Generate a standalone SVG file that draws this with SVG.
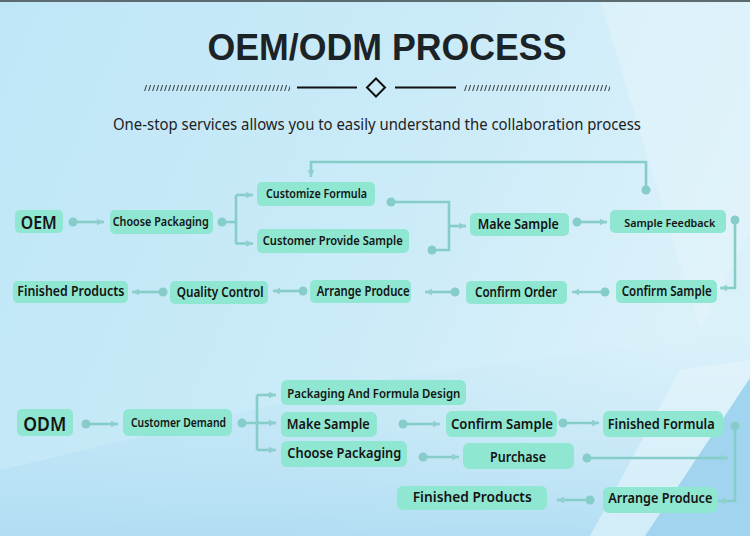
<svg xmlns="http://www.w3.org/2000/svg" width="750" height="536" viewBox="0 0 750 536">
<defs>
<linearGradient id="bg" x1="0" y1="0" x2="1" y2="0.3">
<stop offset="0" stop-color="#bfe6f7"/>
<stop offset="0.6" stop-color="#cbebf8"/>
<stop offset="1" stop-color="#dbf1fa"/>
</linearGradient>
<linearGradient id="low" x1="0" y1="0" x2="0" y2="1">
<stop offset="0" stop-color="#c2e6f6" stop-opacity="0"/>
<stop offset="1" stop-color="#aedcf2" stop-opacity="0.9"/>
</linearGradient>
<pattern id="hatch" patternUnits="userSpaceOnUse" x="0" y="84" width="4" height="8">
<line x1="0.6" y1="7" x2="2.6" y2="1" stroke="#222" stroke-width="0.9"/>
</pattern>
<marker id="arr" markerUnits="userSpaceOnUse" markerWidth="8" markerHeight="8" refX="7" refY="4" orient="auto">
<path d="M0,0.8 L7,4 L0,7.2 Z" fill="#8fd0cd"/>
</marker>
<style>
.n{fill:#8fe6d1}
.t{font-family:"Noto Sans","Open Sans","Liberation Sans",sans-serif;font-weight:600;fill:#141414}
.c{fill:none;stroke:#86cdca;stroke-width:2.6}
.a{marker-end:url(#arr)}
.d{fill:#86cdca}
</style>
</defs>
<g id="background">
<rect width="750" height="536" fill="url(#bg)"/>
<polygon points="600,0 750,0 750,230 700,330" fill="#e3f4fb" opacity="0.55"/>
<polygon points="0,536 0,470 380,380 750,330 750,536" fill="url(#low)"/>
<polygon points="680,370 750,360 750,380 660,536 590,536" fill="#e6f5fb" opacity="0.6"/>
<polygon points="750,378 750,536 645,536" fill="#a1d5ef"/>
<rect x="0" y="0" width="750" height="2" fill="#5b6b70"/>
</g>
<g id="header">
<text x="387" y="60" text-anchor="middle" font-family="'Liberation Sans',Arial,sans-serif" font-weight="700" font-size="37" fill="#1b2326" textLength="359" lengthAdjust="spacingAndGlyphs">OEM/ODM PROCESS</text>
<rect x="143" y="84" width="147" height="8" fill="url(#hatch)"/>
<rect x="463" y="84" width="147" height="8" fill="url(#hatch)"/>
<line x1="297" y1="87.5" x2="357" y2="87.5" stroke="#111" stroke-width="2"/>
<line x1="395" y1="87.5" x2="456" y2="87.5" stroke="#111" stroke-width="2"/>
<polygon points="376,78.5 385,87.5 376,96.5 367,87.5" fill="none" stroke="#111" stroke-width="2"/>
<text x="113" y="130" font-family="'Noto Sans','Open Sans',sans-serif" font-size="15.5" fill="#1e2224" textLength="528" lengthAdjust="spacingAndGlyphs">One-stop services allows you to easily understand the collaboration process</text>
</g>
<g id="connectors">
<path class="c a" d="M73,222 H104"/>
<path class="c" d="M222,222 H236 M236,195 V244"/>
<path class="c a" d="M236,195 H253"/>
<path class="c a" d="M236,243.5 H253"/>
<path class="c a" d="M646,190 V162 H311 V177"/>
<path class="c" d="M391,202 H449 V250 H432"/>
<path class="c a" d="M449,226 H466"/>
<path class="c a" d="M577,222 H607"/>
<path class="c a" d="M735,220 V288 H720"/>
<path class="c a" d="M605,292 H572"/>
<path class="c a" d="M455,292 H425"/>
<path class="c a" d="M303,291 H273"/>
<path class="c a" d="M163,292 H132"/>
<circle class="d" cx="73" cy="222" r="4.5"/>
<circle class="d" cx="222" cy="222" r="4.5"/>
<circle class="d" cx="646" cy="190" r="4.5"/>
<circle class="d" cx="391" cy="202" r="4.5"/>
<circle class="d" cx="432" cy="250" r="4.5"/>
<circle class="d" cx="577" cy="222" r="4.5"/>
<circle class="d" cx="735" cy="220" r="4.5"/>
<circle class="d" cx="605" cy="292" r="4.5"/>
<circle class="d" cx="455" cy="292" r="4.5"/>
<circle class="d" cx="303" cy="291" r="4.5"/>
<circle class="d" cx="163" cy="292" r="4.5"/>
<path class="c a" d="M86,424 H118"/>
<path class="c" d="M242,423 H257 M257,395 V450"/>
<path class="c a" d="M257,395 H276"/>
<path class="c a" d="M257,423 H276"/>
<path class="c a" d="M257,450 H276"/>
<path class="c a" d="M403,424 H440"/>
<path class="c a" d="M563,423 H599"/>
<path class="c a" d="M735,426 V501 H718"/>
<path class="c a" d="M423,457 H459"/>
<path class="c a" d="M587,458 H728"/>
<path class="c a" d="M590,500 H557"/>
<circle class="d" cx="86" cy="424" r="4.5"/>
<circle class="d" cx="242" cy="423" r="4.5"/>
<circle class="d" cx="403" cy="424" r="4.5"/>
<circle class="d" cx="563" cy="423" r="4.5"/>
<circle class="d" cx="735" cy="426" r="4.5"/>
<circle class="d" cx="423" cy="457" r="4.5"/>
<circle class="d" cx="587" cy="458" r="4.5"/>
<circle class="d" cx="590" cy="500" r="4.5"/>
</g>
<g id="oem"><rect class="n" x="15" y="210" width="48" height="23" rx="5"/><text class="t" x="20.7" y="229" font-size="17" font-weight="500" textLength="36" lengthAdjust="spacingAndGlyphs">OEM</text></g>
<g id="oem-choose-packaging"><rect class="n" x="110" y="210" width="103" height="24" rx="5"/><text class="t" x="112.7" y="226" font-size="12" textLength="96" lengthAdjust="spacingAndGlyphs">Choose Packaging</text></g>
<g id="oem-customize-formula"><rect class="n" x="257" y="182" width="118" height="24" rx="5"/><text class="t" x="266" y="198" font-size="12" textLength="101" lengthAdjust="spacingAndGlyphs">Customize Formula</text></g>
<g id="oem-customer-provide-sample"><rect class="n" x="257" y="229" width="152" height="24" rx="5"/><text class="t" x="262.7" y="245" font-size="12" textLength="140" lengthAdjust="spacingAndGlyphs">Customer Provide Sample</text></g>
<g id="oem-make-sample"><rect class="n" x="470" y="213" width="99" height="23" rx="5"/><text class="t" x="477.7" y="229.3" font-size="15" textLength="81" lengthAdjust="spacingAndGlyphs">Make Sample</text></g>
<g id="oem-sample-feedback"><rect class="n" x="610" y="210" width="116" height="23" rx="5"/><text class="t" x="624.3" y="227.3" font-size="11.5" textLength="91" lengthAdjust="spacingAndGlyphs">Sample Feedback</text></g>
<g id="oem-confirm-sample"><rect class="n" x="616" y="280" width="101" height="23" rx="5"/><text class="t" x="621.7" y="295.5" font-size="13.5" textLength="90" lengthAdjust="spacingAndGlyphs">Confirm Sample</text></g>
<g id="oem-confirm-order"><rect class="n" x="466" y="281" width="101" height="23" rx="5"/><text class="t" x="475" y="297.3" font-size="14" textLength="82" lengthAdjust="spacingAndGlyphs">Confirm Order</text></g>
<g id="oem-arrange-produce"><rect class="n" x="310" y="280" width="101" height="23" rx="5"/><text class="t" x="316.7" y="295.5" font-size="13.5" textLength="93" lengthAdjust="spacingAndGlyphs">Arrange Produce</text></g>
<g id="oem-quality-control"><rect class="n" x="170" y="281" width="98" height="23" rx="5"/><text class="t" x="176.7" y="296.7" font-size="14" textLength="87" lengthAdjust="spacingAndGlyphs">Quality Control</text></g>
<g id="oem-finished-products"><rect class="n" x="13" y="281" width="115" height="22" rx="5"/><text class="t" x="17.3" y="296" font-size="13.5" textLength="107" lengthAdjust="spacingAndGlyphs">Finished Products</text></g>
<g id="odm"><rect class="n" x="17" y="409" width="56" height="27" rx="5"/><text class="t" x="23.3" y="430.7" font-size="20" font-weight="500" textLength="43" lengthAdjust="spacingAndGlyphs">ODM</text></g>
<g id="odm-customer-demand"><rect class="n" x="123" y="409" width="109" height="27" rx="6"/><text class="t" x="131" y="426.7" font-size="12" textLength="95" lengthAdjust="spacingAndGlyphs">Customer Demand</text></g>
<g id="odm-packaging-formula-design"><rect class="n" x="281" y="380" width="185" height="25" rx="6"/><text class="t" x="287.3" y="397.5" font-size="12.5" textLength="173" lengthAdjust="spacingAndGlyphs">Packaging And Formula Design</text></g>
<g id="odm-make-sample"><rect class="n" x="281" y="412" width="96" height="25" rx="6"/><text class="t" x="286.7" y="429.3" font-size="15" textLength="83" lengthAdjust="spacingAndGlyphs">Make Sample</text></g>
<g id="odm-choose-packaging"><rect class="n" x="281" y="441" width="126" height="26" rx="6"/><text class="t" x="287.3" y="458.3" font-size="14" textLength="114" lengthAdjust="spacingAndGlyphs">Choose Packaging</text></g>
<g id="odm-confirm-sample"><rect class="n" x="446" y="411" width="111" height="26" rx="6"/><text class="t" x="451" y="429" font-size="15" textLength="102" lengthAdjust="spacingAndGlyphs">Confirm Sample</text></g>
<g id="odm-finished-formula"><rect class="n" x="603" y="411" width="120" height="26" rx="6"/><text class="t" x="607.7" y="429.3" font-size="15" textLength="107" lengthAdjust="spacingAndGlyphs">Finished Formula</text></g>
<g id="odm-purchase"><rect class="n" x="463" y="443" width="111" height="26" rx="6"/><text class="t" x="490" y="461.7" font-size="14" textLength="56" lengthAdjust="spacingAndGlyphs">Purchase</text></g>
<g id="odm-arrange-produce"><rect class="n" x="603" y="487" width="114" height="26" rx="6"/><text class="t" x="608.3" y="503.3" font-size="15" textLength="104" lengthAdjust="spacingAndGlyphs">Arrange Produce</text></g>
<g id="odm-finished-products"><rect class="n" x="397" y="486" width="150" height="24" rx="6"/><text class="t" x="412.7" y="502.3" font-size="15" textLength="119" lengthAdjust="spacingAndGlyphs">Finished Products</text></g>
</svg>
